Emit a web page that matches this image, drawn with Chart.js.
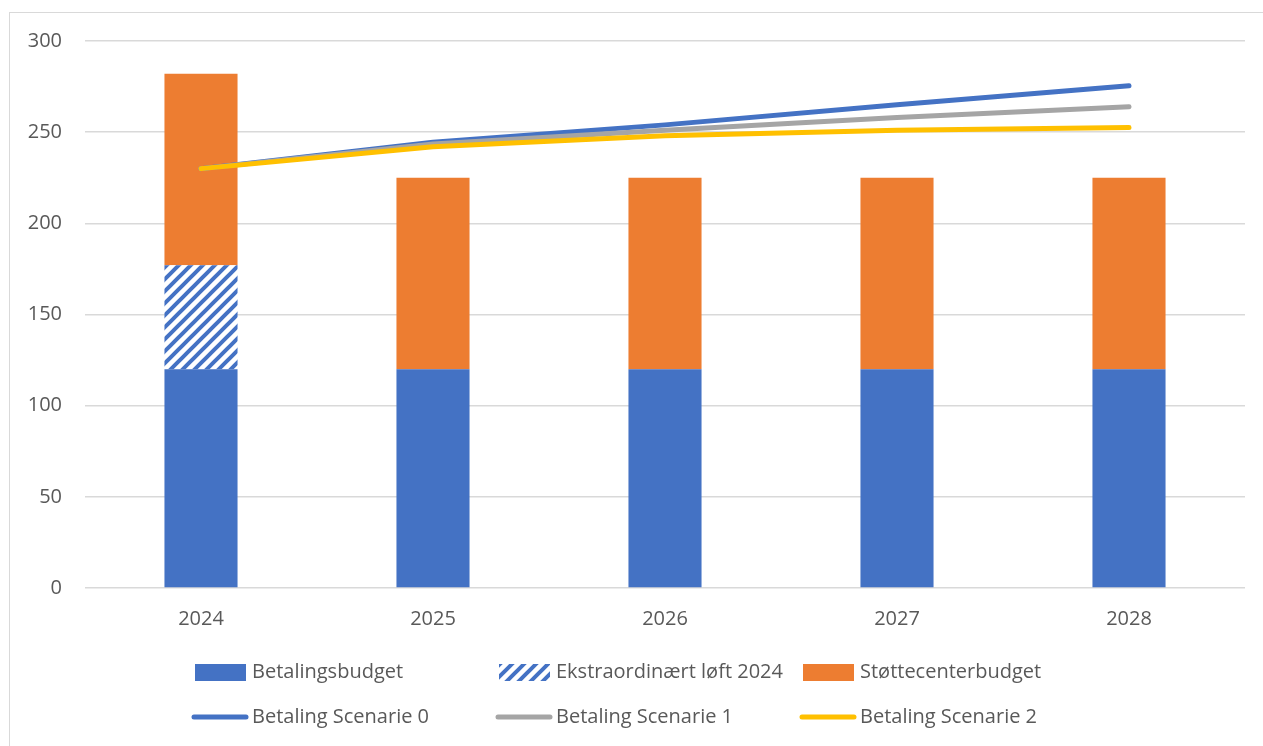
<!DOCTYPE html>
<html><head><meta charset="utf-8">
<script src="https://cdn.jsdelivr.net/npm/chart.js@4.4.1/dist/chart.umd.min.js"></script>
<style>
html,body{margin:0;padding:0;background:#fff;overflow:hidden}
#wrap{position:absolute;left:0;top:0;width:1263px;height:746px;overflow:hidden}
#frame{position:absolute;left:9px;top:12px;width:1300px;height:800px;border:1px solid #D9D9D9;box-sizing:border-box}
canvas{position:absolute;left:0;top:0}
</style></head>
<body><div id="wrap"><div id="frame"></div><canvas id="c" width="1263" height="746"></canvas></div>
<script>
const categories = ['2024','2025','2026','2027','2028'];
const betalingsbudget = [120,120,120,120,120];
const ekstraordinaert = [57,0,0,0,0];
const stottecenter = [105,105,105,105,105];
const scenarie0 = [230,244.5,254,265,275.5];
const scenarie1 = [230,243.5,251,258,264];
const scenarie2 = [230,242,248,251,252.5];
const yMin = 0, yMax = 300, yStep = 50;

const BLUE='#4472C4', ORANGE='#ED7D31', GRAY='#A5A5A5', YELLOW='#FFC000', TEXT='#595959';
const FONT='"Open Sans", "Noto Sans", sans-serif';

function makeHatch(){
  const s=12, c=document.createElement('canvas'); c.width=s; c.height=s;
  const g=c.getContext('2d');
  g.fillStyle='#fff'; g.fillRect(0,0,s,s);
  g.strokeStyle=BLUE; g.lineWidth=4; g.lineCap='square';
  g.beginPath();
  g.moveTo(0,s); g.lineTo(s,0);
  g.moveTo(-s/2,s/2); g.lineTo(s/2,-s/2);
  g.moveTo(s/2,s*1.5); g.lineTo(s*1.5,s/2);
  g.stroke();
  return document.getElementById('c').getContext('2d').createPattern(c,'repeat');
}
const hatch = makeHatch();

const legendPlugin = {
  id:'gridLegend',
  afterDraw(chart){
    const ctx=chart.ctx, ds=chart.data.datasets;
    const colX=[191,495,799], rowY=[672,717];
    ctx.save();
    ctx.font='20px '+FONT; ctx.textBaseline='middle'; ctx.textAlign='left';
    ds.forEach((d,i)=>{
      const x=colX[i%3], y=rowY[Math.floor(i/3)];
      if(d.type==='line'){
        ctx.strokeStyle=d.borderColor; ctx.lineWidth=5; ctx.lineCap='round';
        ctx.beginPath(); ctx.moveTo(x+3,y); ctx.lineTo(x+55,y); ctx.stroke();
      } else {
        ctx.fillStyle=d.backgroundColor; ctx.fillRect(x+4,y-8,51,17);
      }
      ctx.fillStyle=TEXT; ctx.fillText(d.label,x+61,y);
    });
    ctx.restore();
  }
};

const lineStyle = {type:'line',borderWidth:5,pointRadius:0,borderCapStyle:'round',borderJoinStyle:'round',tension:0,fill:false};

new Chart(document.getElementById('c'), {
  data:{
    labels:categories,
    datasets:[
      {type:'bar',label:'Betalingsbudget',data:betalingsbudget,backgroundColor:BLUE,stack:'s',order:3},
      {type:'bar',label:'Ekstraordinært løft 2024',data:ekstraordinaert,backgroundColor:hatch,stack:'s',order:3},
      {type:'bar',label:'Støttecenterbudget',data:stottecenter,backgroundColor:ORANGE,stack:'s',order:3},
      Object.assign({},lineStyle,{label:'Betaling Scenarie 0',data:scenarie0,borderColor:BLUE,backgroundColor:BLUE,stack:'l0',order:2}),
      Object.assign({},lineStyle,{label:'Betaling Scenarie 1',data:scenarie1,borderColor:GRAY,backgroundColor:GRAY,stack:'l1',order:1}),
      Object.assign({},lineStyle,{label:'Betaling Scenarie 2',data:scenarie2,borderColor:YELLOW,backgroundColor:YELLOW,stack:'l2',order:0})
    ]
  },
  options:{
    responsive:false, animation:false, devicePixelRatio:1,
    layout:{padding:{top:41,right:18,bottom:0,left:0}},
    datasets:{bar:{barPercentage:0.315,categoryPercentage:1,borderWidth:0}},
    plugins:{legend:{display:false},tooltip:{enabled:false}},
    scales:{
      x:{stacked:true,grid:{display:false,drawTicks:false},border:{display:false},
         ticks:{color:TEXT,font:{family:FONT,size:20},padding:19},
         afterFit(s){s.height=158;}},
      y:{stacked:true,min:yMin,max:yMax,
         grid:{color:'#D9D9D9',lineWidth:1.5,drawTicks:false},border:{display:false},
         ticks:{stepSize:yStep,color:TEXT,font:{family:FONT,size:20},padding:23},
         afterFit(s){s.width=85;}}
    }
  },
  plugins:[legendPlugin]
});
</script>
</body></html>
